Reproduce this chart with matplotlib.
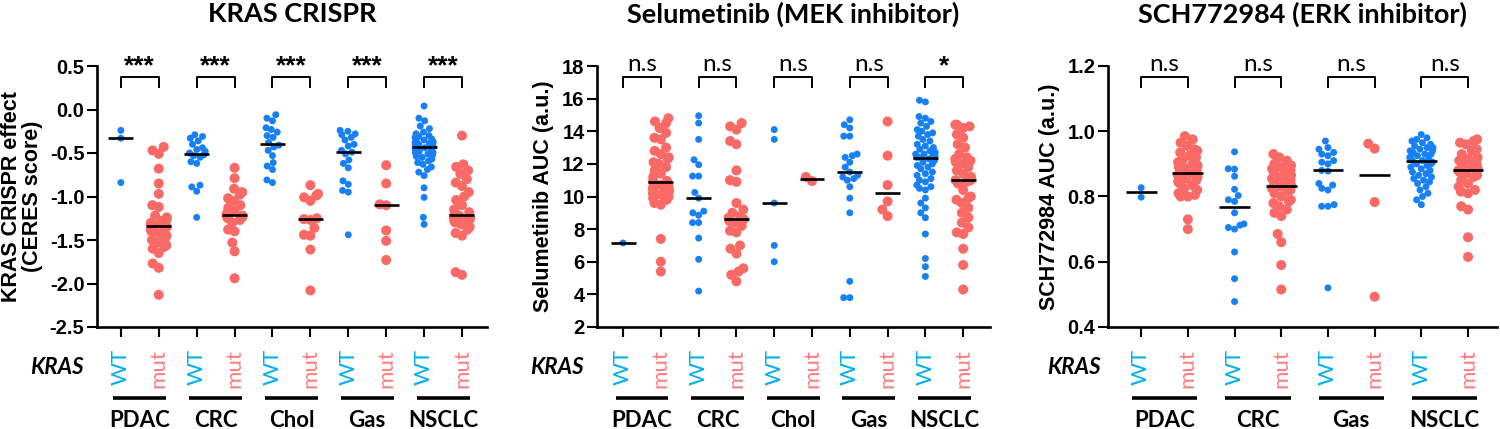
import matplotlib
matplotlib.use('Agg')
import matplotlib.pyplot as plt
import numpy as np
from matplotlib.transforms import blended_transform_factory

plt.rcParams['axes.unicode_minus'] = False

# ---------------- data ----------------
groups5 = ['PDAC', 'CRC', 'Chol', 'Gas', 'NSCLC']
groups4 = ['PDAC', 'CRC', 'Gas', 'NSCLC']

crispr_wt = [
    [-0.24, -0.33, -0.84],
    [-0.29, -0.31, -0.33, -0.36, -0.40, -0.44, -0.46, -0.48, -0.50, -0.52, -0.53, -0.55, -0.60, -0.62, -0.87, -0.89, -0.94, -1.24],
    [-0.06, -0.10, -0.13, -0.21, -0.23, -0.26, -0.30, -0.32, -0.38, -0.41, -0.43, -0.47, -0.53, -0.61, -0.65, -0.69, -0.81, -0.84],
    [-0.24, -0.25, -0.28, -0.29, -0.32, -0.35, -0.40, -0.42, -0.47, -0.49, -0.51, -0.58, -0.62, -0.67, -0.82, -0.86, -0.93, -0.95, -1.44],
    [0.04, -0.10, -0.13, -0.19, -0.22, -0.26, -0.28, -0.30, -0.31, -0.32, -0.33, -0.34, -0.35, -0.36, -0.37, -0.38, -0.38, -0.39,
     -0.40, -0.41, -0.42, -0.42, -0.43, -0.44, -0.45, -0.46, -0.47, -0.48, -0.49, -0.50, -0.51, -0.52, -0.54, -0.55, -0.57,
     -0.59, -0.61, -0.63, -0.66, -0.69, -0.72, -0.76, -0.90, -1.01, -1.24, -1.32],
]
crispr_mut = [
    [-0.43, -0.47, -0.51, -0.68, -0.85, -0.97, -1.10, -1.12, -1.22, -1.24, -1.26, -1.27, -1.28, -1.30, -1.31, -1.33, -1.35,
     -1.37, -1.38, -1.40, -1.42, -1.45, -1.48, -1.50, -1.53, -1.56, -1.58, -1.60, -1.65, -1.77, -1.82, -2.13],
    [-0.67, -0.79, -0.91, -0.95, -0.98, -1.02, -1.05, -1.10, -1.13, -1.16, -1.20, -1.22, -1.23, -1.24, -1.25, -1.27, -1.30,
     -1.38, -1.40, -1.53, -1.63, -1.94],
    [-0.87, -0.97, -0.99, -1.01, -1.05, -1.25, -1.26, -1.27, -1.36, -1.44, -1.45, -1.61, -2.08],
    [-0.64, -0.85, -1.09, -1.10, -1.39, -1.51, -1.73],
    [-0.30, -0.63, -0.66, -0.70, -0.74, -0.80, -0.84, -0.88, -0.95, -1.00, -1.04, -1.10, -1.15, -1.18, -1.20, -1.22, -1.23,
     -1.24, -1.25, -1.26, -1.27, -1.28, -1.30, -1.32, -1.35, -1.38, -1.42, -1.45, -1.87, -1.90],
]
crispr_sig = ['***', '***', '***', '***', '***']

selu_wt = [
    [7.15],
    [14.95, 14.5, 13.5, 12.25, 11.95, 11.25, 11.25, 10.25, 9.9, 9.1, 9.0, 8.85, 8.4, 8.4, 7.45, 6.15, 4.2],
    [14.1, 13.5, 9.6, 7.0, 6.0],
    [14.7, 14.4, 14.2, 13.7, 13.7, 12.6, 12.5, 12.4, 12.1, 11.8, 11.5, 11.3, 11.2, 11.1, 11.0, 10.6, 9.9, 9.0, 4.8, 3.8, 3.8],
    [15.9, 15.8, 14.9, 14.8, 14.6, 14.5, 14.3, 14.1, 14.0, 13.9, 13.8, 13.7, 13.5, 13.4, 13.2, 13.1, 13.0, 12.9, 12.8, 12.7,
     12.6, 12.6, 12.5, 12.5, 12.4, 12.4, 12.3, 12.2, 12.1, 12.0, 11.9, 11.8, 11.7, 11.5, 11.4, 11.3, 11.1, 11.0, 10.9, 10.7,
     10.6, 10.5, 10.4, 9.9, 9.6, 9.3, 9.0, 8.7, 7.7, 6.2, 5.7, 5.1],
]
selu_mut = [
    [14.8, 14.6, 14.5, 14.2, 13.9, 13.6, 13.5, 13.0, 12.8, 12.6, 12.4, 12.3, 12.1, 12.0, 11.8, 11.6, 11.4, 11.2, 10.95, 10.9,
     10.8, 10.7, 10.6, 10.5, 10.5, 10.4, 10.4, 10.3, 10.2, 10.2, 10.1, 10.0, 9.9, 9.8, 9.6, 9.5, 7.4, 6.0, 5.4],
    [14.5, 14.3, 14.1, 13.4, 13.2, 11.6, 11.0, 10.9, 9.6, 9.2, 9.0, 8.8, 8.7, 8.6, 8.5, 8.4, 8.2, 7.9, 7.8, 7.0, 6.8, 6.5,
     5.6, 5.4, 5.2, 4.8],
    [10.95, 11.2],
    [14.6, 12.5, 10.7, 9.7, 9.2, 8.8],
    [14.4, 14.4, 14.3, 14.2, 13.8, 13.6, 13.2, 13.0, 12.6, 12.4, 12.3, 12.2, 12.1, 12.0, 11.8, 11.6, 11.4, 11.2, 11.0, 11.0,
     10.9, 10.8, 10.4, 10.0, 9.9, 9.8, 9.6, 9.3, 9.0, 8.7, 8.4, 8.1, 7.8, 7.7, 6.8, 5.8, 4.3],
]
selu_sig = ['n.s', 'n.s', 'n.s', 'n.s', '*']

sch_wt = [
    [0.827, 0.798],
    [0.937, 0.885, 0.884, 0.862, 0.822, 0.803, 0.79, 0.785, 0.75, 0.716, 0.712, 0.705, 0.70, 0.63, 0.548, 0.478],
    [0.97, 0.95, 0.945, 0.935, 0.93, 0.925, 0.91, 0.905, 0.90, 0.878, 0.88, 0.84, 0.835, 0.825, 0.82, 0.775, 0.77, 0.77, 0.52],
    [0.99, 0.98, 0.975, 0.97, 0.965, 0.96, 0.955, 0.95, 0.95, 0.945, 0.94, 0.94, 0.935, 0.93, 0.93, 0.925, 0.92, 0.92, 0.915,
     0.91, 0.91, 0.905, 0.90, 0.90, 0.895, 0.89, 0.885, 0.88, 0.875, 0.87, 0.865, 0.86, 0.855, 0.85, 0.845, 0.84, 0.83,
     0.82, 0.81, 0.80, 0.79, 0.775],
]
sch_mut = [
    [0.985, 0.975, 0.965, 0.955, 0.945, 0.94, 0.935, 0.925, 0.92, 0.91, 0.905, 0.90, 0.895, 0.89, 0.885, 0.88, 0.872,
     0.868, 0.865, 0.86, 0.855, 0.85, 0.845, 0.84, 0.835, 0.825, 0.82, 0.81, 0.805, 0.80, 0.80, 0.73, 0.70],
    [0.93, 0.92, 0.91, 0.90, 0.895, 0.89, 0.885, 0.88, 0.875, 0.87, 0.865, 0.86, 0.855, 0.85, 0.845, 0.84, 0.835, 0.83,
     0.825, 0.82, 0.815, 0.81, 0.80, 0.79, 0.785, 0.78, 0.77, 0.76, 0.75, 0.74, 0.685, 0.66, 0.59, 0.515],
    [0.962, 0.947, 0.783, 0.493],
    [0.975, 0.97, 0.965, 0.96, 0.945, 0.94, 0.93, 0.92, 0.915, 0.91, 0.90, 0.895, 0.89, 0.885, 0.88, 0.875, 0.87, 0.865,
     0.86, 0.85, 0.84, 0.83, 0.82, 0.815, 0.81, 0.77, 0.76, 0.675, 0.615],
]
sch_sig = ['n.s', 'n.s', 'n.s', 'n.s']

titles = ['KRAS CRISPR', 'Selumetinib (MEK inhibitor)', 'SCH772984 (ERK inhibitor)']
ylabels = ['KRAS CRISPR effect\n(CERES score)', 'Selumetinib AUC (a.u.)', 'SCH772984 AUC (a.u.)']

# ---------------- style ----------------
BLUE = '#1780F5'
RED = '#F96A66'
WT_TXT = '#00B0F0'
MUT_TXT = '#FF7C80'
TXT_FONT = 'Lato'
TICK_FONT = 'Liberation Sans'

W, H = 1500, 429
fig = plt.figure(figsize=(15, 4.29), dpi=100)

panels = [
    dict(rect=[97, 487], xlim=(-0.63, 9.66), ylim=(-2.5, 0.5), ticks=np.arange(-2.5, 0.51, 0.5), fmt='{:.1f}',
         wt=crispr_wt, mut=crispr_mut, groups=groups5, sig=crispr_sig, label_x=22, kras_dx=40, spread=(9, 8)),
    dict(rect=[597, 990], xlim=(-0.69, 9.71), ylim=(2, 18), ticks=np.arange(2, 18.1, 2), fmt='{:.0f}',
         wt=selu_wt, mut=selu_mut, groups=groups5, sig=selu_sig, label_x=543, kras_dx=40, spread=(10, 8)),
    dict(rect=[1108, 1497], xlim=(-0.71, 7.62), ylim=(0.4, 1.2), ticks=np.arange(0.4, 1.21, 0.2), fmt='{:.1f}',
         wt=sch_wt, mut=sch_mut, groups=groups4, sig=sch_sig, label_x=1050, kras_dx=34, spread=(12, 10)),
]

TOP_PX, BOT_PX = 66, 327
AX_H = BOT_PX - TOP_PX


def swarm(vals, d, xpp, ypp, wmax):
    """Beeswarm offsets (data units); d = min distance in px, wmax = soft max half-width in px."""
    vals = np.asarray(vals, float)
    order = np.argsort(vals)
    placed = []
    off = np.zeros(len(vals))
    for i in order:
        y = vals[i] * ypp
        cands = [0.0]
        for (px, py) in placed:
            dy = y - py
            if abs(dy) < d:
                dx = np.sqrt(d * d - dy * dy)
                cands += [px + dx, px - dx]
        cands = sorted(cands, key=lambda c: (abs(c), c))
        chosen = 0.0
        for c in cands:
            ok = all((c - px) ** 2 + (y - py) ** 2 >= d * d - 1e-6 for (px, py) in placed)
            if ok:
                chosen = c
                break
        placed.append((chosen, y))
        off[i] = chosen
    off = wmax * np.tanh(off / wmax)
    return off / xpp


for k, p in enumerate(panels):
    x0, x1 = p['rect']
    ax = fig.add_axes([x0 / W, 1 - BOT_PX / H, (x1 - x0) / W, AX_H / H])
    ax.set_xlim(*p['xlim'])
    ax.set_ylim(*p['ylim'])
    xpp = (x1 - x0) / (p['xlim'][1] - p['xlim'][0])
    ypp = AX_H / (p['ylim'][1] - p['ylim'][0])

    n = len(p['groups'])
    for g in range(n):
        for j, (vals, col, dpx, s, wm) in enumerate([(p['wt'][g], BLUE, 7.0, 25, p['spread'][0]),
                                                     (p['mut'][g], RED, 9.0, 52, p['spread'][1])]):
            pos = 2 * g + j
            off = swarm(vals, dpx, xpp, ypp, wm)
            ax.scatter(pos + off, vals, s=s, color=col, edgecolors='none', zorder=3, clip_on=False)
            med = np.median(vals)
            ax.plot([pos - 0.33, pos + 0.33], [med, med], color='black', lw=1.9, zorder=4,
                    solid_capstyle='butt')

    # spines / ticks
    for sp in ['top', 'right']:
        ax.spines[sp].set_visible(False)
    for sp in ['left', 'bottom']:
        ax.spines[sp].set_linewidth(1.9)
    ax.set_xticks(np.arange(2 * n))
    ax.set_xticklabels([])
    ax.set_yticks(p['ticks'])
    ax.set_yticklabels([p['fmt'].format(t) for t in p['ticks']], fontfamily=TICK_FONT,
                       fontweight='bold', fontsize=14.5)
    ax.tick_params(axis='both', direction='out', length=7.5, width=1.5, pad=1.5)

    ax.set_ylabel(ylabels[k], fontfamily=TICK_FONT, fontweight='bold',
                  fontsize=15.5, linespacing=1.0, va='center')
    ax.yaxis.set_label_coords(-(x0 - p['label_x']) / (x1 - x0), 0.5)
    ax.set_title(titles[k], fontfamily=TXT_FONT, fontweight='bold', fontsize=19.5, pad=0,
                 y=(BOT_PX - 2) / AX_H, va='top')

    tr = blended_transform_factory(ax.transData, ax.transAxes)

    def fy(px):
        return (BOT_PX - px) / AX_H

    # brackets and significance
    for g in range(n):
        a, b = 2 * g, 2 * g + 1
        ax.plot([a, a, b, b], [fy(87), fy(76.5), fy(76.5), fy(87)], color='black', lw=1.4,
                transform=tr, clip_on=False, zorder=5)
        lab = p['sig'][g]
        if lab == 'n.s':
            ax.text(g * 2 + 0.5, fy(71), lab, transform=tr, ha='center', va='baseline',
                    fontfamily=TXT_FONT, fontsize=17.5)
        else:
            ax.text(g * 2 + 0.5, fy(73), lab, transform=tr, ha='center', va='baseline',
                    fontfamily=TICK_FONT, fontweight='bold', fontsize=19)

    # WT / mut labels
    for g in range(n):
        ax.text(2 * g, fy(349), 'WT', transform=tr, rotation=90, ha='center', va='top',
                color=WT_TXT, fontfamily=TXT_FONT, fontsize=16)
        ax.text(2 * g + 1, fy(349), 'mut', transform=tr, rotation=90, ha='center', va='top',
                color=MUT_TXT, fontfamily=TXT_FONT, fontsize=16)
        cx = 2 * g + 0.5
        ax.plot([cx - 0.7, cx + 0.7], [fy(398), fy(398)], color='black', lw=2.6, transform=tr,
                clip_on=False, solid_capstyle='butt')
        ax.text(cx, fy(410), p['groups'][g], transform=tr, ha='center', va='top',
                fontfamily=TXT_FONT, fontweight='bold', fontsize=16)

    ax.text(-p['kras_dx'] / (x1 - x0), fy(368), 'KRAS', transform=ax.transAxes, ha='center',
            va='center', fontfamily=TXT_FONT, fontweight='bold', fontstyle='italic', fontsize=16)

fig.savefig('out.png', dpi=100)
